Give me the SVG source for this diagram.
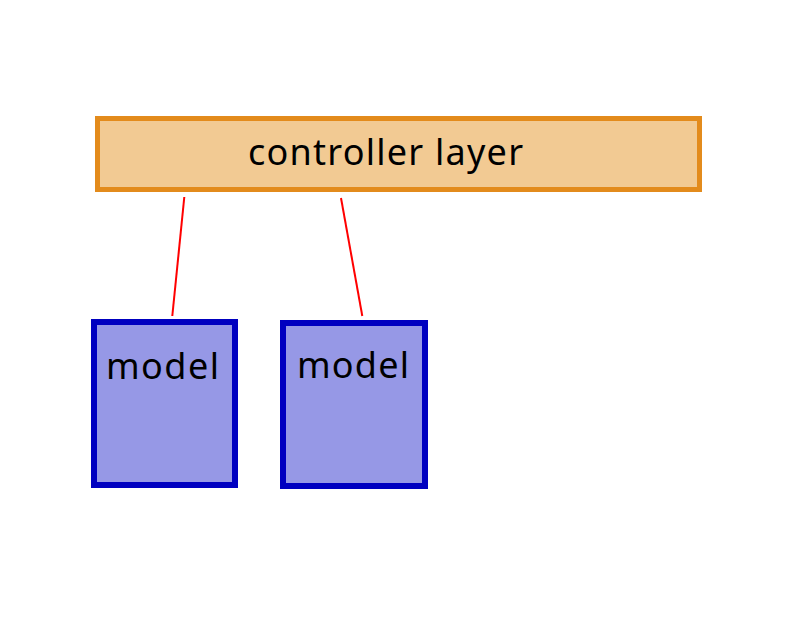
<svg xmlns="http://www.w3.org/2000/svg" width="800" height="640" viewBox="0 0 800 640">
<style>
.lbl{font-family:"Noto Sans","Open Sans","DejaVu Sans",sans-serif;fill:#000}
.model{fill:#9698e6;stroke:#0000c0;stroke-width:6}
.conn{stroke:#ff0000;stroke-width:2;fill:none}
</style>
<rect width="800" height="640" fill="#fff"/>
<g id="connectors">
<line class="conn" x1="184.3" y1="197" x2="172.3" y2="316"/>
<line class="conn" x1="341" y1="198" x2="362.3" y2="316"/>
</g>
<g id="controller">
<rect x="97.5" y="118.5" width="602" height="71" fill="#f2ca93" stroke="#e38b1c" stroke-width="5"/>
<text class="lbl" x="248" y="165" font-size="36" textLength="275">controller layer</text>
</g>
<g id="model1">
<rect class="model" x="94" y="322" width="141" height="163"/>
<text class="lbl" x="106" y="379" font-size="36" textLength="113">model</text>
</g>
<g id="model2">
<rect class="model" x="283" y="323" width="142" height="163"/>
<text class="lbl" x="297" y="378" font-size="36" textLength="112">model</text>
</g>
</svg>
